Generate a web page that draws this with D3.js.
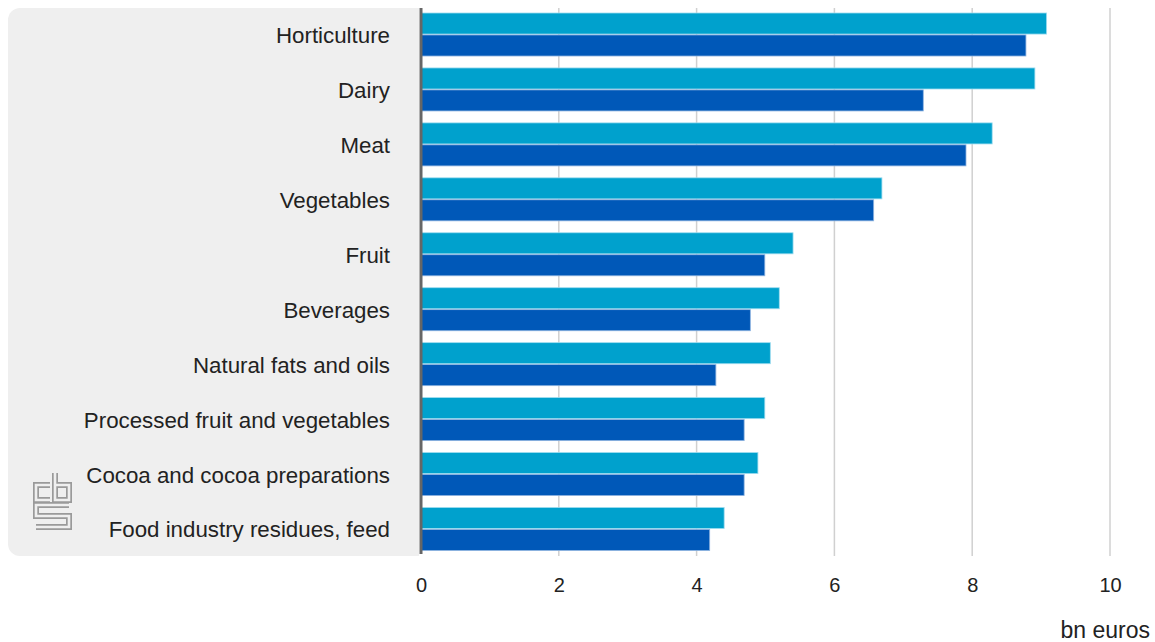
<!DOCTYPE html>
<html>
<head>
<meta charset="utf-8">
<script src="https://cdn.jsdelivr.net/npm/d3@7"></script>
<style>
  body { margin: 0; background: #fff; }
  text { font-family: "Liberation Sans", Arial, sans-serif; fill: #222; }
</style>
</head>
<body>
<div id="chart"></div>
<script>
// Categories and values (bn euros)
const categories = [
  "Horticulture", "Dairy", "Meat", "Vegetables", "Fruit", "Beverages",
  "Natural fats and oils", "Processed fruit and vegetables",
  "Cocoa and cocoa preparations", "Food industry residues, feed"
];
const seriesA = [9.08, 8.91, 8.29, 6.69, 5.40, 5.20, 5.07, 4.99, 4.89, 4.40];
const seriesB = [8.78, 7.29, 7.91, 6.57, 4.99, 4.78, 4.28, 4.69, 4.69, 4.19];
const xTicks = [0, 2, 4, 6, 8, 10];
const unitLabel = "bn euros";

const width = 1155;
const height = 642;
const margin = { top: 7.5, right: 45, bottom: 86, left: 421 };

const svg = d3.select("#chart").append("svg")
  .attr("width", width)
  .attr("height", height);

const x = d3.scaleLinear()
  .domain([0, 10])
  .range([margin.left, 1110]);

const y = d3.scaleBand()
  .domain(categories)
  .range([margin.top, height - margin.bottom])
  .paddingInner(0.217)
  .paddingOuter(0.1);

const sub = d3.scaleBand()
  .domain(["a", "b"])
  .range([0, y.bandwidth()])
  .paddingInner(0.04);

// grey label panel
svg.append("rect")
  .attr("x", 8).attr("y", 8)
  .attr("width", 430).attr("height", 548)
  .attr("rx", 12)
  .attr("fill", "#efefef");
svg.append("rect")
  .attr("x", 419).attr("y", 0)
  .attr("width", 30).attr("height", 570)
  .attr("fill", "#fff");

// gridlines
svg.append("g")
  .selectAll("line")
  .data(xTicks.filter(d => d > 0))
  .join("line")
  .attr("x1", d => x(d)).attr("x2", d => x(d))
  .attr("y1", 8).attr("y2", 556)
  .attr("stroke", "#d0d0d0")
  .attr("stroke-width", 1.5);

// bars
const groups = svg.append("g")
  .selectAll("g")
  .data(categories)
  .join("g")
  .attr("transform", d => `translate(0,${y(d)})`);

groups.append("rect")
  .attr("x", x(0))
  .attr("y", sub("a"))
  .attr("width", (d, i) => x(seriesA[i]) - x(0))
  .attr("height", sub.bandwidth())
  .attr("fill", "#00a1cd")
  .attr("stroke", "#9fdcef")
  .attr("stroke-width", 0.8);

groups.append("rect")
  .attr("x", x(0))
  .attr("y", sub("b"))
  .attr("width", (d, i) => x(seriesB[i]) - x(0))
  .attr("height", sub.bandwidth())
  .attr("fill", "#0058b8")
  .attr("stroke", "#8fb4e0")
  .attr("stroke-width", 0.8);

// category labels
svg.append("g")
  .selectAll("text")
  .data(categories)
  .join("text")
  .attr("x", 390)
  .attr("y", d => y(d) + y.bandwidth() / 2 + 1)
  .attr("text-anchor", "end")
  .attr("dominant-baseline", "central")
  .attr("font-size", "22.3px")
  .text(d => d);

// zero axis line
svg.append("line")
  .attr("x1", x(0)).attr("x2", x(0))
  .attr("y1", 8).attr("y2", 554)
  .attr("stroke", "#666")
  .attr("stroke-width", 3);

// x axis
const xAxis = d3.axisBottom(x).tickValues(xTicks).tickSize(0).tickPadding(0);
const gx = svg.append("g")
  .attr("transform", "translate(0,578)")
  .call(xAxis);
gx.select(".domain").remove();
gx.selectAll("text")
  .attr("font-size", "20px")
  .attr("font-family", "Liberation Sans, Arial, sans-serif")
  .attr("fill", "#222");

svg.append("text")
  .attr("x", 1150)
  .attr("y", 638)
  .attr("text-anchor", "end")
  .attr("font-size", "23px")
  .text(unitLabel);

// cbs logo (double-line outline)
const logo = svg.append("g").attr("transform", "translate(33,472)");
const logoPaths = [
  "M17,13 H3 V28 H17",
  "M22,1 V28 H36 V13 H22",
  "M36,33 H3 V44 H36 V55 H3"
];
logo.selectAll("path.o").data(logoPaths).join("path")
  .attr("d", d => d).attr("fill", "none")
  .attr("stroke", "#9a9a9a").attr("stroke-width", 6);
logo.selectAll("path.i").data(logoPaths).join("path")
  .attr("d", d => d).attr("fill", "none")
  .attr("stroke", "#efefef").attr("stroke-width", 2.6);
</script>
</body>
</html>
